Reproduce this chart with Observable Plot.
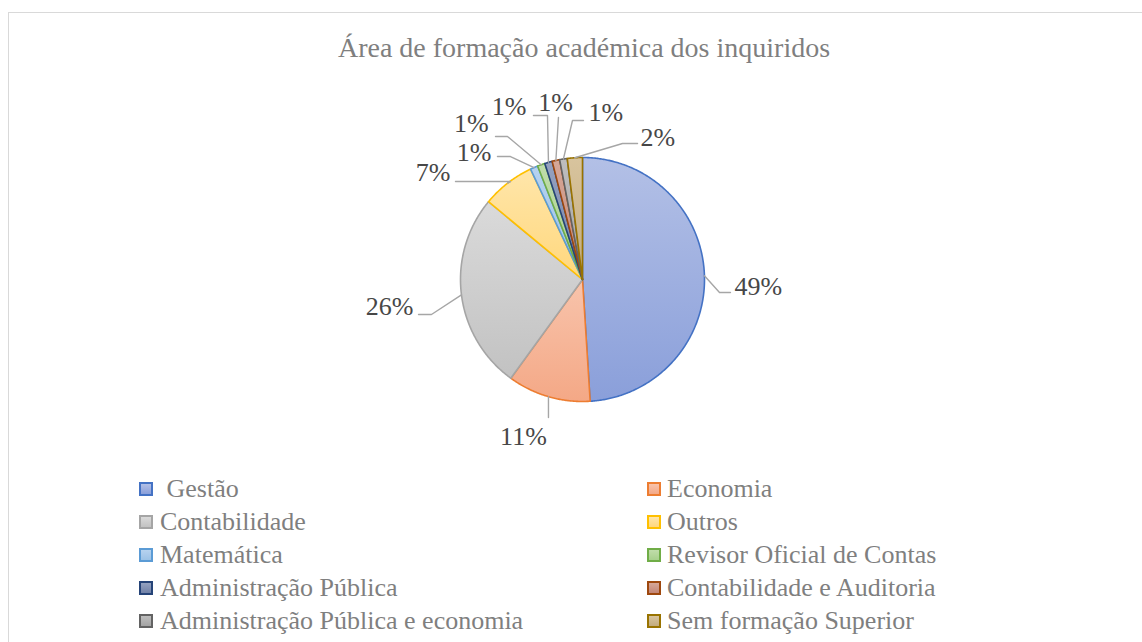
<!DOCTYPE html>
<html><head><meta charset="utf-8">
<script src="https://cdn.jsdelivr.net/npm/d3@7"></script>
<script src="https://cdn.jsdelivr.net/npm/@observablehq/plot@0.6"></script>
<style>
html,body{margin:0;padding:0;background:#fff;}
#root{position:relative;width:1142px;height:642px;overflow:hidden;font-family:"Liberation Serif","DejaVu Serif","Times New Roman",serif;}
#frame{position:absolute;left:8px;top:12px;width:1200px;height:700px;border:1.5px solid #d9d9d9;box-sizing:border-box;}
#title{position:absolute;left:0;top:34px;width:1168px;text-align:center;font-size:28px;line-height:28px;color:#7f7f7f;white-space:nowrap;}
#chart{position:absolute;left:0;top:60px;}
.leg{position:absolute;font-size:26px;line-height:26px;color:#7f7f7f;white-space:pre;}
.sw{position:absolute;width:14px;height:14px;box-sizing:border-box;border:2px solid;}
</style></head><body><div id="root">
<div id="frame"></div>
<div id="title"></div>
<div id="chart"></div>
<div id="legend"></div>
</div>
<script>
// ---- data ----
const chartTitle = "Área de formação académica dos inquiridos";
const categories = ["Gestão","Economia","Contabilidade","Outros","Matemática","Revisor Oficial de Contas","Administração Pública","Contabilidade e Auditoria","Administração Pública e economia","Sem formação Superior"];
const legendLabels = [" Gestão","Economia","Contabilidade","Outros","Matemática","Revisor Oficial de Contas","Administração Pública","Contabilidade e Auditoria","Administração Pública e economia","Sem formação Superior"];
const percentages = [49, 11, 26, 7, 1, 1, 1, 1, 1, 2];

// ---- styles ----
const strokeColors = ["#4472C4","#ED7D31","#A5A5A5","#FFC000","#5B9BD5","#70AD47","#264478","#9E480E","#636363","#997300"];
const gradTop = ["#B3C0E6","#F8C4AC","#DADADA","#FFE6AA","#B6D2EF","#C0DDAA","#95A2C0","#D6A898","#BEBEBE","#D8C49E"];
const gradBottom = ["#8A9FDA","#F4A886","#C2C2C2","#FFD77C","#9CC2E6","#A8D08D","#7282A8","#C48676","#A4A4A4","#C3AC7E"];

// ---- label layout (unit-circle coordinates: 1 = pie radius) ----
const labelLayout = [
  {leader:[[1.123,-0.107],[1.213,-0.107]], text:[1.246,-0.057], anchor:"start"},
  {leader:[[-0.279,-1.131]], text:[-0.484,-1.287], anchor:"middle"},
  {leader:[[-1.238,-0.287],[-1.344,-0.287]], text:[-1.385,-0.221], anchor:"end"},
  {leader:[[-0.590,0.803],[-1.041,0.803]], text:[-1.082,0.877], anchor:"end"},
  {leader:[[-0.590,1.008],[-0.697,1.008]], text:[-0.746,1.041], anchor:"end"},
  {leader:[[-0.615,1.172],[-0.713,1.172]], text:[-0.770,1.279], anchor:"end"},
  {leader:[[-0.287,1.344],[-0.402,1.344]], text:[-0.459,1.418], anchor:"end"},
  {leader:[[-0.197,1.328]], text:[-0.221,1.451], anchor:"middle"},
  {leader:[[-0.082,1.303],[0.008,1.303]], text:[0.049,1.369], anchor:"start"},
  {leader:[[0.328,1.115],[0.451,1.115]], text:[0.475,1.164], anchor:"start"}
];

const W = 1142, H = 400, R = 122, CX = 582, CY = 219;
const total = d3.sum(percentages);
let acc = 0;
const slices = categories.map((c, i) => {
  const a0 = acc / total * 2 * Math.PI; acc += percentages[i];
  const a1 = acc / total * 2 * Math.PI;
  return {c, i, a0, a1, mid: (a0 + a1) / 2};
});
function slicePoints(s) {
  const pts = [{x: 0, y: 0}];
  const n = Math.max(2, Math.ceil((s.a1 - s.a0) / (Math.PI / 360)));
  for (let k = 0; k <= n; k++) {
    const a = s.a0 + (s.a1 - s.a0) * k / n;
    pts.push({x: Math.sin(a), y: Math.cos(a)});
  }
  pts.push({x: 0, y: 0});
  return pts;
}
const leaderData = [];
slices.forEach((s, i) => {
  leaderData.push({i, x: Math.sin(s.mid), y: Math.cos(s.mid)});
  labelLayout[i].leader.forEach(p => leaderData.push({i, x: p[0], y: p[1]}));
});
const labelData = slices.map((s, i) => ({
  label: Math.round(percentages[i] / total * 100) + "%",
  x: labelLayout[i].text[0], y: labelLayout[i].text[1], anchor: labelLayout[i].anchor
}));

const marks = slices.map((s, i) => Plot.line(slicePoints(s), {
  x: "x", y: "y", fill: `url(#grad${i})`, stroke: strokeColors[i], strokeWidth: 1.6, strokeLinejoin: "round"
}));
marks.push(Plot.line(leaderData, {x: "x", y: "y", z: "i", stroke: "#a6a6a6", strokeWidth: 1.4}));
["start", "middle", "end"].forEach(a => {
  marks.push(Plot.text(labelData.filter(d => d.anchor === a), {
    x: "x", y: "y", text: "label", textAnchor: a, fill: "#474747",
    fontSize: 26, fontFamily: "Liberation Serif, DejaVu Serif, serif"
  }));
});

const svg = Plot.plot({
  width: W, height: H, margin: 0,
  x: {domain: [-CX / R, (W - CX) / R], axis: null},
  y: {domain: [-(H - CY) / R, CY / R], axis: null},
  style: {background: "transparent", overflow: "visible"},
  marks
});
const defs = d3.select(svg).insert("defs", ":first-child");
categories.forEach((c, i) => {
  const g = defs.append("linearGradient").attr("id", `grad${i}`)
    .attr("x1", 0).attr("y1", 0).attr("x2", 0).attr("y2", 1);
  g.append("stop").attr("offset", "0%").attr("stop-color", gradTop[i]);
  g.append("stop").attr("offset", "100%").attr("stop-color", gradBottom[i]);
});
document.getElementById("chart").appendChild(svg);
document.getElementById("title").textContent = chartTitle;

// ---- legend ----
const legend = document.getElementById("legend");
const colX = [139, 647], textX = [160, 667], rowY = [489, 522, 555, 588, 621];
legendLabels.forEach((lab, i) => {
  const col = i % 2, row = Math.floor(i / 2);
  const sw = document.createElement("div");
  sw.className = "sw";
  sw.style.left = colX[col] + "px";
  sw.style.top = (rowY[row] - 7) + "px";
  sw.style.borderColor = strokeColors[i];
  sw.style.background = `linear-gradient(${gradTop[i]}, ${gradBottom[i]})`;
  legend.appendChild(sw);
  const t = document.createElement("div");
  t.className = "leg";
  t.style.left = textX[col] + "px";
  t.style.top = (rowY[row] - 13) + "px";
  t.textContent = lab;
  legend.appendChild(t);
});
</script>
</body></html>
